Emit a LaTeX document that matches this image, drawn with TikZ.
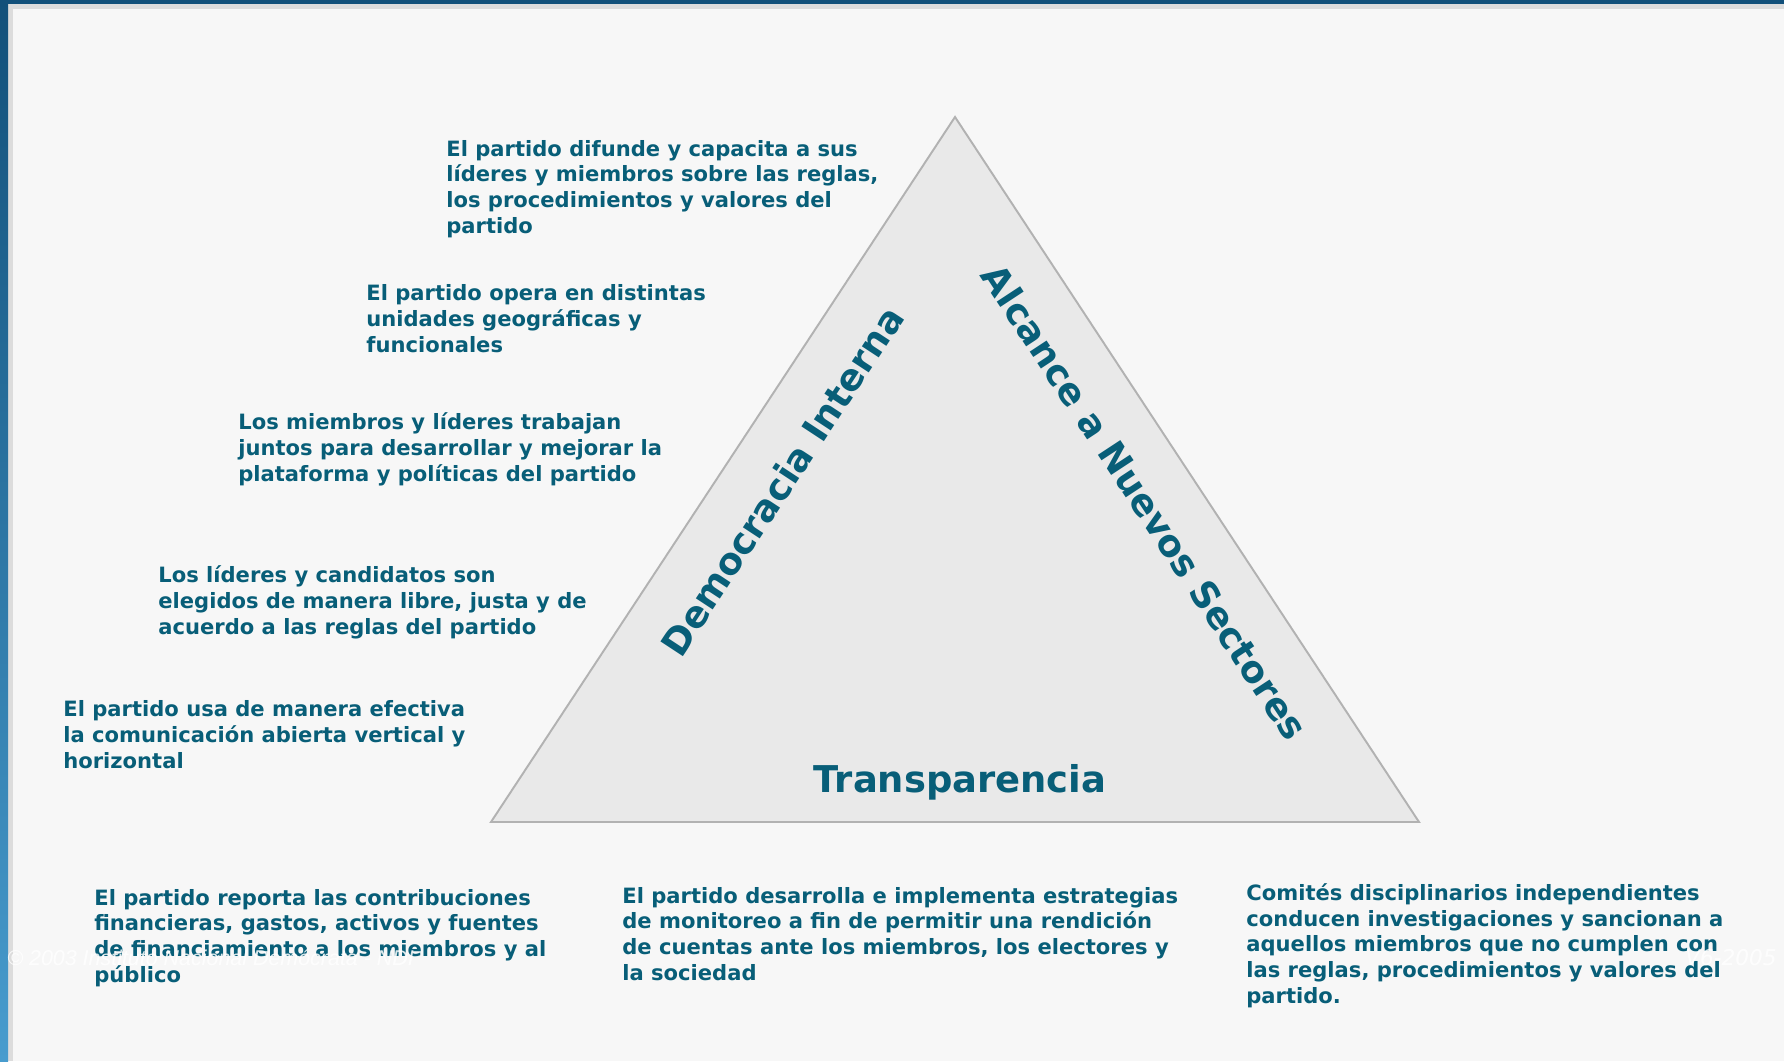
\documentclass[tikz,border=0pt]{standalone}
\usepackage{fontspec}
\setmainfont{DejaVu Sans}
\newfontfamily\stampfont{Liberation Sans}
\usetikzlibrary{positioning}

\definecolor{ndiTeal}{RGB}{8,94,120}
\definecolor{ndiBlue}{RGB}{18,80,122}
\definecolor{ndiLightBlue}{RGB}{72,156,206}
\definecolor{triFill}{RGB}{233,233,233}
\definecolor{triLine}{RGB}{178,178,178}
\definecolor{pageBg}{RGB}{247,247,247}
\definecolor{frameGray}{RGB}{220,220,220}

\tikzset{
  point/.style={font=\bfseries\fontsize{12}{14.6}\selectfont, text=ndiTeal, align=left, anchor=base west, inner sep=0},
  pillar/.style={font=\bfseries\fontsize{21}{25}\selectfont, text=ndiTeal, inner sep=0},
  stamptext/.style={font=\stampfont\itshape\fontsize{12.2}{14}\selectfont, text=white, opacity=0.85, anchor=base west, inner sep=0}
}

\begin{document}
\begin{tikzpicture}[x=0.02cm, y=-0.02cm]
  \useasboundingbox (0,0) rectangle (1784,1061);
  % page and frame
  \fill[pageBg] (0,0) rectangle (1784,1061);
  \fill[frameGray] (0,0) rectangle (1784,9);
  \fill[frameGray] (0,0) rectangle (13,1061);
  \fill[ndiBlue] (0,0) rectangle (1784,4);
  \shade[top color=ndiBlue, bottom color=ndiLightBlue] (0,0) rectangle (8,1061);

  % triangle
  \coordinate (apex) at (955,117);
  \coordinate (left) at (491,822);
  \coordinate (right) at (1419,822);
  \filldraw[fill=triFill, draw=triLine, line width=1.1pt, line join=miter] (apex) -- (left) -- (right) -- cycle;

  % sides of the triangle
  \node[pillar, rotate=56.65] (Democracia) at (782,481) {Democracia Interna};
  \node[pillar, rotate=-56.65] (Alcance) at (1145,502) {Alcance a Nuevos Sectores};
  \node[pillar, anchor=base] (Transparencia) at (960,792) {Transparencia};

  % left column (base = last line)
  \node[point] (Capacita) at (446,233) {El partido difunde y capacita a sus\\líderes y miembros sobre las reglas,\\los procedimientos y valores del\\partido};
  \node[point] (Unidades) at (366,352) {El partido opera en distintas\\unidades geográficas y\\funcionales};
  \node[point] (Plataforma) at (238,481) {Los miembros y líderes trabajan\\juntos para desarrollar y mejorar la\\plataforma y políticas del partido};
  \node[point] (Elecciones) at (158,634) {Los líderes y candidatos son\\elegidos de manera libre, justa y de\\acuerdo a las reglas del partido};
  \node[point] (Comunicacion) at (63,768) {El partido usa de manera efectiva\\la comunicación abierta vertical y\\horizontal};

  % bottom row
  \node[point] (Finanzas) at (94,982) {El partido reporta las contribuciones\\financieras, gastos, activos y fuentes\\de financiamiento a los miembros y al\\público};
  \node[point] (Monitoreo) at (622,980) {El partido desarrolla e implementa estrategias\\de monitoreo a fin de permitir una rendición\\de cuentas ante los miembros, los electores y\\la sociedad};
  \node[point] (Comites) at (1246,1003) {Comités disciplinarios independientes\\conducen investigaciones y sancionan a\\aquellos miembros que no cumplen con\\las reglas, procedimientos y valores del\\partido.};

  % watermark
  \node[stamptext] (Copyright) at (7,965) {© 2003 Instituto Nacional Demócrata - NDI};
  \node[stamptext, font=\itshape\fontsize{12.3}{14}\selectfont] (Version) at (1685,965) {V6-2005};
\end{tikzpicture}
\end{document}
